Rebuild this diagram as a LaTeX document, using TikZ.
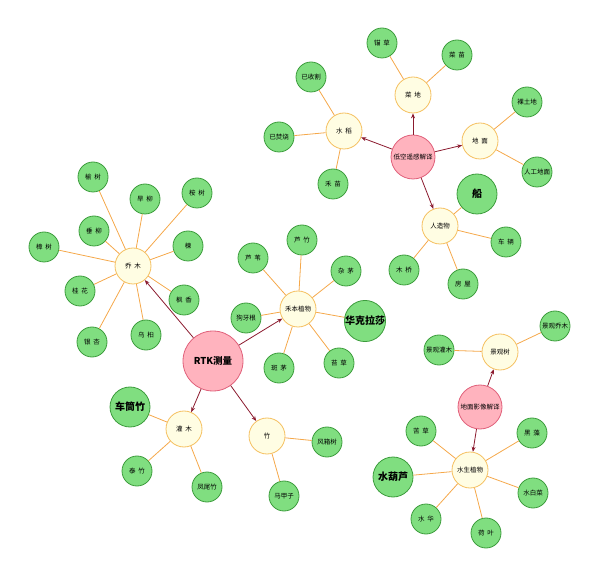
\documentclass[tikz,border=0pt]{standalone}
\usepackage{fontspec}
\setmainfont{Noto Sans CJK SC}
\usetikzlibrary{arrows.meta}
\definecolor{pinkfill}{HTML}{FFB3BE}
\definecolor{pinkline}{HTML}{E0607A}
\definecolor{yelfill}{HTML}{FFFDE3}
\definecolor{yelline}{HTML}{F5C060}
\definecolor{grnfill}{HTML}{80DE80}
\definecolor{grnline}{HTML}{3C9C3C}
\definecolor{edgeor}{HTML}{F5A84A}
\definecolor{arrred}{HTML}{8B1A2E}
\tikzset{
  x=1pt,y=-1pt,
  rootnode/.style={circle,draw=pinkline,fill=pinkfill,line width=0.8pt,minimum size=44pt,inner sep=0pt,font=\fontsize{6.5}{7}\selectfont},
  bignode/.style={rootnode,minimum size=60pt,font=\bfseries\fontsize{9.5}{10}\selectfont},
  midnode/.style={circle,draw=yelline,fill=yelfill,line width=0.8pt,minimum size=36pt,inner sep=0pt,font=\fontsize{6.5}{7}\selectfont},
  leaf/.style={circle,draw=grnline,fill=grnfill,line width=0.8pt,minimum size=30pt,inner sep=0pt,font=\fontsize{6.5}{7}\selectfont},
  bigleaf/.style={leaf,minimum size=40pt,font=\bfseries\fontsize{10}{11}\selectfont},
  link/.style={draw=edgeor,line width=0.8pt},
  arr/.style={draw=arrred,line width=0.8pt,-{Stealth[length=5pt,width=4pt]}}
}
\begin{document}
\begin{tikzpicture}
\useasboundingbox (0,0) rectangle (600,577);
% roots
\node[bignode] (rtk) at (213,361) {RTK测量};
\node[rootnode] (dk) at (413,157) {低空遥感解译};
\node[rootnode] (dm) at (480,407) {地面影像解译};
% mid nodes
\node[midnode] (cd) at (413,95) {菜\ \ 地};
\node[midnode] (sd) at (344,131) {水\ \ 稻};
\node[midnode] (dmn) at (480,141) {地\ \ 面};
\node[midnode] (rzw) at (440,226) {人造物};
\node[midnode] (qm) at (133,266) {乔\ \ 木};
\node[midnode] (hb) at (298,309) {禾本植物};
\node[midnode] (gm) at (184,429) {灌\ \ 木};
\node[midnode] (zhu) at (267,436) {竹};
\node[midnode] (jgs) at (500,352) {景观树};
\node[midnode] (ss) at (470,470) {水生植物};
% leaves 低空
\node[leaf] (l1) at (382,43) {锚\ \ 草};
\node[leaf] (l2) at (457,55) {菜\ \ 苗};
\node[leaf] (l3) at (311,77) {已收割};
\node[leaf] (l4) at (279,137) {已焚烧};
\node[leaf] (l5) at (333,184) {禾\ \ 苗};
\node[leaf] (l6) at (527,102) {裸土地};
\node[leaf] (l7) at (537,172) {人工地面};
\node[bigleaf] (l8) at (477,194) {船};
\node[leaf] (l9) at (506,242) {车\ \ 辆};
\node[leaf] (l10) at (404,270) {木\ \ 桥};
\node[leaf] (l11) at (463,284) {房\ \ 屋};
% leaves 乔木
\node[leaf] (q1) at (93,177) {榆\ \ 树};
\node[leaf] (q2) at (145,199) {旱\ \ 柳};
\node[leaf] (q3) at (197,193) {桉\ \ 树};
\node[leaf] (q4) at (94,231) {垂\ \ 柳};
\node[leaf] (q5) at (188,246) {楝};
\node[leaf] (q6) at (44,247) {樟\ \ 树};
\node[leaf] (q7) at (80,291) {桂\ \ 花};
\node[leaf] (q8) at (184,300) {枫\ \ 香};
\node[leaf] (q9) at (92,342) {银\ \ 杏};
\node[leaf] (q10) at (146,335) {乌\ \ 桕};
% leaves 禾本
\node[leaf] (h1) at (302,240) {芦\ \ 竹};
\node[leaf] (h2) at (253,258) {芦\ \ 苇};
\node[leaf] (h3) at (346,271) {杂\ \ 茅};
\node[leaf] (h4) at (246,318) {狗牙根};
\node[bigleaf] (h5) at (365,321) {华克拉莎};
\node[leaf] (h6) at (279,368) {斑\ \ 茅};
\node[leaf] (h7) at (339,363) {苔\ \ 草};
% leaves 灌木 竹
\node[bigleaf] (g1) at (130,407) {车筒竹};
\node[leaf] (g2) at (137,471) {泰\ \ 竹};
\node[leaf] (g3) at (207,487) {凤尾竹};
\node[leaf] (z1) at (327,442) {风箱树};
\node[leaf] (z2) at (284,496) {马甲子};
% leaves 地面影像
\node[leaf] (j1) at (439,350) {景观灌木};
\node[leaf] (j2) at (555,326) {景观乔木};
\node[leaf] (s1) at (421,431) {苦\ \ 草};
\node[leaf] (s2) at (532,433) {黑\ \ 藻};
\node[bigleaf] (s3) at (393,477) {水葫芦};
\node[leaf] (s4) at (533,493) {水白菜};
\node[leaf] (s5) at (426,519) {水\ \ 华};
\node[leaf] (s6) at (486,533) {荷\ \ 叶};
% links
\foreach \a/\b in {cd/l1,cd/l2,sd/l3,sd/l4,sd/l5,dmn/l6,dmn/l7,rzw/l8,rzw/l9,rzw/l10,rzw/l11,
  qm/q1,qm/q2,qm/q3,qm/q4,qm/q5,qm/q6,qm/q7,qm/q8,qm/q9,qm/q10,
  hb/h1,hb/h2,hb/h3,hb/h4,hb/h5,hb/h6,hb/h7,
  gm/g1,gm/g2,gm/g3,zhu/z1,zhu/z2,
  jgs/j1,jgs/j2,ss/s1,ss/s2,ss/s3,ss/s4,ss/s5,ss/s6}
  {\draw[link] (\a) -- (\b);}
% arrows
\foreach \a/\b in {dk/cd,dk/sd,dk/dmn,dk/rzw,rtk/qm,rtk/hb,rtk/gm,rtk/zhu,dm/jgs,dm/ss}
  {\draw[arr] (\a) -- (\b);}
\end{tikzpicture}
\end{document}
